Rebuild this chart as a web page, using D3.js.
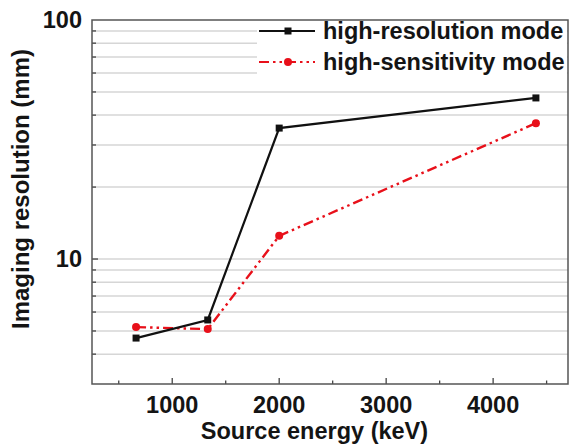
<!DOCTYPE html>
<html>
<head>
<meta charset="utf-8">
<script src="https://cdn.jsdelivr.net/npm/d3@7"></script>
<style>
  body { margin: 0; background: #fff; }
  svg text { font-family: "Liberation Sans", Arial, sans-serif; font-weight: bold; fill: #141414; }
</style>
</head>
<body>
<div id="chart"></div>
<script>
// chart data
var energies = [662, 1332, 2000, 4400];
var highResolution = [4.67, 5.56, 35.3, 47.2];
var highSensitivity = [5.19, 5.09, 12.5, 37.0];
var seriesNames = ["high-resolution mode", "high-sensitivity mode"];
var xTicks = [1000, 2000, 3000, 4000];
var xMinorTicks = [500, 1500, 2500, 3500, 4500];
var yTicks = [10, 100];
var yGrid = [4, 5, 6, 7, 8, 9, 10, 20, 30, 40, 50, 60, 70, 80, 90];

var width = 571, height = 446;
var margin = { left: 92, top: 20, right: 3, bottom: 62 };
var plotW = width - margin.left - margin.right;
var plotH = height - margin.top - margin.bottom;
var redDash = '10,4,2.5,4,2.5,4';

var svg = d3.select('#chart').append('svg')
    .attr('width', width)
    .attr('height', height);

var x = d3.scaleLinear().domain([250, 4700]).range([0, plotW]);
var y = d3.scaleLog().domain([3, 100]).range([plotH, 0]);

var g = svg.append('g').attr('transform', `translate(${margin.left},${margin.top})`);

// gridlines
var legendBox = { x0: 165, y1: 62 };
g.selectAll('.grid')
    .data(yGrid.filter(v => v !== 100))
    .join('line')
    .attr('class', 'grid')
    .attr('x1', 0)
    .attr('x2', plotW)
    .attr('y1', d => y(d))
    .attr('y2', d => y(d))
    .attr('stroke', '#d6d6d6')
    .attr('stroke-width', 1.5);

// legend background hides gridlines behind it
g.append('rect')
    .attr('x', legendBox.x0)
    .attr('y', 1)
    .attr('width', plotW - legendBox.x0 - 1)
    .attr('height', legendBox.y1)
    .attr('fill', '#fff');

// y ticks (inward)
g.selectAll('.ytick')
    .data(yGrid)
    .join('line')
    .attr('x1', 0)
    .attr('x2', d => yTicks.includes(d) ? 6 : 4)
    .attr('y1', d => y(d))
    .attr('y2', d => y(d))
    .attr('stroke', '#444')
    .attr('stroke-width', 1.3);

// x ticks (inward)
g.selectAll('.xmajor')
    .data(xTicks)
    .join('line')
    .attr('x1', d => x(d))
    .attr('x2', d => x(d))
    .attr('y1', plotH)
    .attr('y2', plotH - 6)
    .attr('stroke', '#444')
    .attr('stroke-width', 1.3);

g.selectAll('.xminor')
    .data(xMinorTicks)
    .join('line')
    .attr('x1', d => x(d))
    .attr('x2', d => x(d))
    .attr('y1', plotH)
    .attr('y2', plotH - 3.5)
    .attr('stroke', '#444')
    .attr('stroke-width', 1.3);

// frame
g.append('rect')
    .attr('x', 0)
    .attr('y', 0)
    .attr('width', plotW)
    .attr('height', plotH)
    .attr('fill', 'none')
    .attr('stroke', '#555')
    .attr('stroke-width', 1.5);

// tick labels
g.selectAll('.xlabel')
    .data(xTicks)
    .join('text')
    .attr('x', d => x(d))
    .attr('y', plotH + 29)
    .attr('text-anchor', 'middle')
    .style('font-size', '23.5px')
    .text(d => d);

g.selectAll('.ylabel')
    .data(yTicks)
    .join('text')
    .attr('x', -10)
    .attr('y', d => y(d) + 8)
    .attr('text-anchor', 'end')
    .style('font-size', '23.5px')
    .text(d => d);

// axis titles
svg.append('text')
    .attr('x', margin.left + x(2330))
    .attr('y', 439)
    .attr('text-anchor', 'middle')
    .style('font-size', '23.5px')
    .text('Source energy (keV)');

svg.append('text')
    .attr('transform', `translate(29,${189}) rotate(-90)`)
    .attr('text-anchor', 'middle')
    .style('font-size', '24px')
    .text('Imaging resolution (mm)');

// series
var resData = energies.map((e, i) => ({ x: e, y: highResolution[i] }));
var senData = energies.map((e, i) => ({ x: e, y: highSensitivity[i] }));
var line = d3.line().x(d => x(d.x)).y(d => y(d.y));

g.append('path')
    .datum(senData)
    .attr('d', line)
    .attr('fill', 'none')
    .attr('stroke', '#e8101a')
    .attr('stroke-width', 2.4)
    .attr('stroke-dasharray', redDash);

g.selectAll('.sen')
    .data(senData)
    .join('circle')
    .attr('cx', d => x(d.x))
    .attr('cy', d => y(d.y))
    .attr('r', 4)
    .attr('fill', '#e8101a');

g.append('path')
    .datum(resData)
    .attr('d', line)
    .attr('fill', 'none')
    .attr('stroke', '#111')
    .attr('stroke-width', 2.2);

g.selectAll('.res')
    .data(resData)
    .join('rect')
    .attr('x', d => x(d.x) - 3.5)
    .attr('y', d => y(d.y) - 3.5)
    .attr('width', 7)
    .attr('height', 7)
    .attr('fill', '#111');

// legend
var legend = g.append('g').attr('transform', 'translate(167,0)');
var legendRows = [
    { name: seriesNames[0], color: '#111', dash: null, marker: 'square', cy: 11 },
    { name: seriesNames[1], color: '#e8101a', dash: redDash, marker: 'circle', cy: 42 }
];
legendRows.forEach(function(r) {
    legend.append('line')
        .attr('x1', 0)
        .attr('x2', 56)
        .attr('y1', r.cy)
        .attr('y2', r.cy)
        .attr('stroke', r.color)
        .attr('stroke-width', 2.2)
        .attr('stroke-dasharray', r.dash);
    if (r.marker === 'square') {
        legend.append('rect')
            .attr('x', 25.5).attr('y', r.cy - 3.5)
            .attr('width', 7).attr('height', 7)
            .attr('fill', r.color);
    } else {
        legend.append('circle')
            .attr('cx', 29).attr('cy', r.cy).attr('r', 4)
            .attr('fill', r.color);
    }
    legend.append('text')
        .attr('x', 64)
        .attr('y', r.cy + 8)
        .style('font-size', '23.5px')
        .text(r.name);
});
</script>
</body>
</html>
